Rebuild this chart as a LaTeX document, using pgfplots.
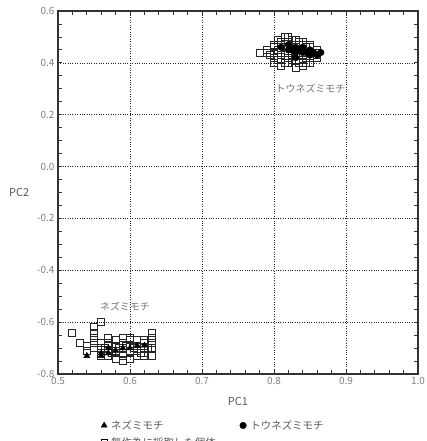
\documentclass[border=0pt]{standalone}
\usepackage{pgfplots}
\pgfplotsset{compat=1.18}
\usepackage{fontspec}
\setmainfont{Noto Sans CJK JP}
\begin{document}
\begin{tikzpicture}
\begin{axis}[
  at={(58bp,67bp)}, anchor=south west,
  scale only axis, width=360bp, height=363bp,
  xmin=0.5, xmax=1.0, ymin=-0.8, ymax=0.6,
  xtick={0.5,0.6,0.7,0.8,0.9,1.0},
  ytick={-0.8,-0.6,-0.4,-0.2,0,0.2,0.4,0.6},
  minor x tick num=4, minor y tick num=3,
  tick align=inside, tick pos=both,
  xticklabel pos=lower, yticklabel pos=left,
  major tick length=4bp, minor tick length=4bp,
  xmajorgrids, ymajorgrids,
  grid style={black!85, dotted, line width=0.6bp},
  axis line style={line width=1.3bp, black!80},
  tick style={line width=0.8bp, black!80},
  ticklabel style={font=\fontsize{10}{11}\selectfont, text=black!50},
  /pgf/number format/assume math mode=true,
  /pgf/number format/fixed,
  /pgf/number format/fixed zerofill,
  /pgf/number format/precision=1,
  xlabel={PC1}, ylabel={PC2},
  every axis x label/.style={at={(axis description cs:0.5,-0.077)}, anchor=center, font=\fontsize{11}{12}\selectfont, text=black!65},
  every axis y label/.style={at={(axis description cs:-0.108,0.5)}, anchor=center, font=\fontsize{11}{12}\selectfont, text=black!65},
  legend columns=2,
  legend style={at={(axis description cs:0.111,-0.116)}, anchor=north west, draw=none, fill=none,
    font=\fontsize{10.5}{12}\selectfont, text=black!65, row sep=3bp,
    /tikz/every odd column/.append style={column sep=2bp},
    /tikz/every even column/.append style={column sep=22bp}},
  legend cell align=left,
  legend image code/.code={\draw[mark repeat=1,mark phase=1,#1] plot coordinates {(0bp,0bp)};},
]
% randomly sampled individuals (squares)
\addplot[only marks, mark=square, mark size=3.5bp, mark options={draw=black!85, line width=0.8bp}, forget plot] coordinates {
(0.52,-0.64)(0.53,-0.68)(0.54,-0.69)(0.54,-0.71)
(0.55,-0.62)(0.55,-0.64)(0.55,-0.66)(0.55,-0.68)(0.55,-0.70)
(0.56,-0.60)(0.56,-0.68)(0.56,-0.70)(0.56,-0.72)(0.56,-0.73)
(0.57,-0.66)(0.57,-0.68)(0.57,-0.69)(0.57,-0.71)(0.57,-0.73)
(0.58,-0.67)(0.58,-0.69)(0.58,-0.71)(0.58,-0.72)(0.58,-0.74)
(0.59,-0.66)(0.59,-0.68)(0.59,-0.70)(0.59,-0.72)(0.59,-0.73)(0.59,-0.75)
(0.60,-0.66)(0.60,-0.67)(0.60,-0.69)(0.60,-0.71)(0.60,-0.72)(0.60,-0.74)
(0.61,-0.67)(0.61,-0.69)(0.61,-0.71)(0.61,-0.73)
(0.62,-0.67)(0.62,-0.68)(0.62,-0.70)(0.62,-0.72)(0.62,-0.73)
(0.63,-0.64)(0.63,-0.66)(0.63,-0.68)(0.63,-0.70)(0.63,-0.73)
(0.565,-0.70)(0.575,-0.72)(0.585,-0.70)(0.595,-0.69)(0.605,-0.70)(0.615,-0.72)(0.625,-0.70)
(0.78,0.44)(0.79,0.44)(0.79,0.45)(0.795,0.43)
(0.80,0.40)(0.80,0.42)(0.80,0.44)(0.80,0.46)(0.80,0.47)
(0.805,0.41)(0.805,0.45)(0.805,0.49)
(0.81,0.39)(0.81,0.41)(0.81,0.43)(0.81,0.45)(0.81,0.47)(0.81,0.48)
(0.815,0.40)(0.815,0.44)(0.815,0.46)(0.815,0.50)
(0.82,0.40)(0.82,0.42)(0.82,0.44)(0.82,0.46)(0.82,0.48)(0.82,0.50)
(0.825,0.41)(0.825,0.43)(0.825,0.47)(0.825,0.49)
(0.83,0.38)(0.83,0.41)(0.83,0.43)(0.83,0.45)(0.83,0.47)(0.83,0.49)
(0.835,0.40)(0.835,0.44)(0.835,0.48)
(0.84,0.39)(0.84,0.41)(0.84,0.43)(0.84,0.45)(0.84,0.47)(0.84,0.48)
(0.845,0.40)(0.845,0.42)(0.845,0.46)
(0.85,0.40)(0.85,0.42)(0.85,0.44)(0.85,0.46)(0.85,0.47)
(0.86,0.42)(0.86,0.43)(0.86,0.44)(0.86,0.45)
};
% Nezumimochi (triangles)
\addplot[only marks, mark=triangle*, mark size=3.5bp, mark options={fill=black, draw=black}] coordinates {
(0.54,-0.73)(0.56,-0.72)(0.56,-0.73)(0.57,-0.70)(0.57,-0.72)(0.58,-0.71)
(0.59,-0.70)(0.60,-0.70)(0.61,-0.69)(0.62,-0.69)
};
% Tounezumimochi (circles)
\addplot[only marks, mark=*, mark size=3.3bp, mark options={fill=black, draw=black}] coordinates {
(0.81,0.46)(0.82,0.45)(0.82,0.47)(0.83,0.42)(0.83,0.44)(0.83,0.46)
(0.84,0.44)(0.84,0.46)(0.85,0.43)(0.85,0.45)(0.86,0.43)(0.865,0.44)
(0.835,0.45)(0.845,0.44)(0.855,0.44)(0.825,0.45)
};
\addlegendimage{only marks, mark=square, mark size=3bp, mark options={draw=black, line width=0.8bp}}
\legend{ネズミモチ, トウネズミモチ, 無作為に採取した個体}
\node[anchor=west, inner sep=0pt, text=black!55, font=\fontsize{10}{12}\selectfont] at (axis cs:0.802,0.30) {トウネズミモチ};
\node[anchor=center, inner sep=0pt, text=black!55, font=\fontsize{10}{12}\selectfont] at (axis cs:0.593,-0.54) {ネズミモチ};
\end{axis}
\pgfresetboundingbox
\path[use as bounding box] (0,0) rectangle (427bp,441bp);
\end{tikzpicture}
\end{document}
